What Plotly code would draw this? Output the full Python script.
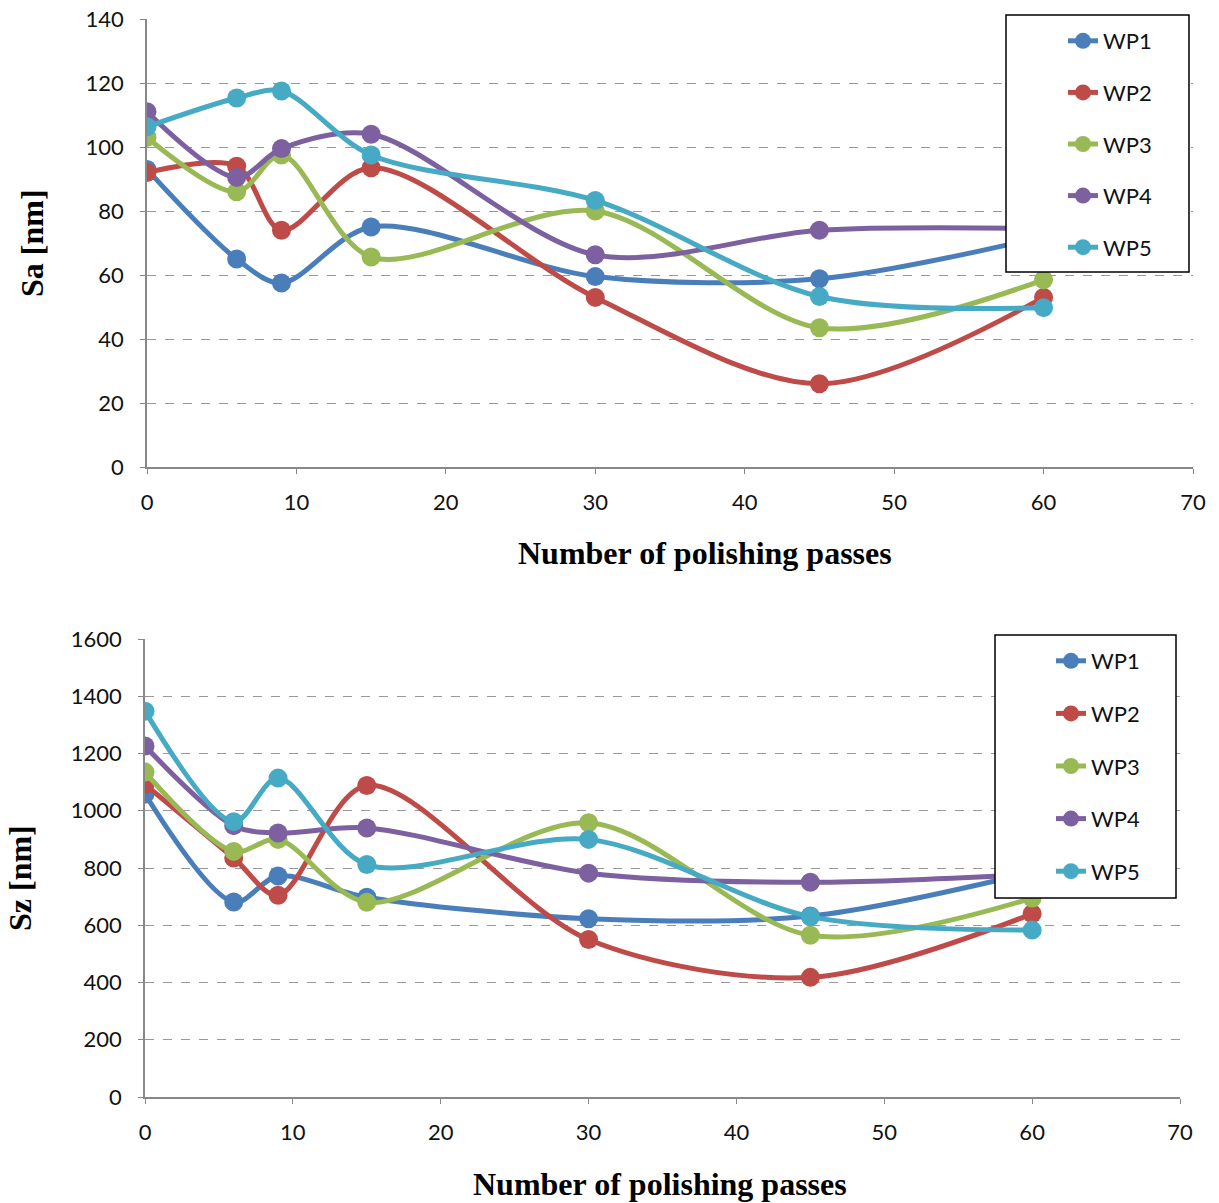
import plotly.graph_objects as go

passes = [0, 6, 9, 15, 30, 45, 60]
series_names = ["WP1", "WP2", "WP3", "WP4", "WP5"]
colors = ["#4a7ebb", "#be4b48", "#98b954", "#7d60a0", "#46aac5"]

sa_wp1 = [93, 65, 57.5, 75, 59.5, 58.8, 72]
sa_wp2 = [92, 94, 74, 93.5, 53, 26, 53]
sa_wp3 = [103, 86, 97.5, 65.6, 80, 43.5, 58.5]
sa_wp4 = [111, 90.5, 99.5, 104, 66.3, 74, 74.5]
sa_wp5 = [106.3, 115.3, 117.5, 97.5, 83.3, 53.3, 49.8]

sz_wp1 = [1058, 681, 772, 698, 623, 632, 785]
sz_wp2 = [1092, 835, 705, 1088, 550, 418, 640]
sz_wp3 = [1135, 858, 900, 680, 958, 565, 695]
sz_wp4 = [1226, 948, 922, 940, 782, 750, 778]
sz_wp5 = [1348, 962, 1114, 812, 900, 630, 583]

sa = [sa_wp1, sa_wp2, sa_wp3, sa_wp4, sa_wp5]
sz = [sz_wp1, sz_wp2, sz_wp3, sz_wp4, sz_wp5]

W, H = 1219, 1203
def px_x(p): return p / W
def px_y(p): return 1 - p / H

fig = go.Figure()
for i, name in enumerate(series_names):
    fig.add_trace(go.Scatter(
        x=passes, y=sa[i], name=name, mode="lines+markers",
        line=dict(color=colors[i], width=5, shape="spline", smoothing=0.9),
        marker=dict(color=colors[i], size=19),
        xaxis="x", yaxis="y", legend="legend", legendgroup="a" + name))
for i, name in enumerate(series_names):
    fig.add_trace(go.Scatter(
        x=passes, y=sz[i], name=name, mode="lines+markers",
        line=dict(color=colors[i], width=5, shape="spline", smoothing=0.9),
        marker=dict(color=colors[i], size=19),
        xaxis="x2", yaxis="y2", legend="legend2", legendgroup="b" + name))

tickfont = dict(family="Lato, Open Sans, sans-serif", size=22, color="#111")
common_x = dict(range=[0, 70], dtick=10, showline=True, linecolor="#888", linewidth=1.5,
                ticks="outside", ticklen=5, tickcolor="#888", showgrid=False,
                zeroline=False, tickfont=tickfont, automargin=False, ticklabelstandoff=10)
common_y = dict(showline=True, linecolor="#888", linewidth=1.5, ticks="outside",
                ticklen=5, tickcolor="#888", showgrid=True, gridcolor="#999",
                griddash="dash", gridwidth=1, zeroline=False, tickfont=tickfont,
                automargin=False, ticklabelstandoff=12)

legend_common = dict(font=dict(family="Lato, Open Sans, sans-serif", size=22, color="#111"),
                     borderwidth=0, bgcolor="rgba(0,0,0,0)",
                     xanchor="left", yanchor="top", traceorder="grouped")

title_font = dict(family="Liberation Serif, Times New Roman, serif", size=32, color="#000")

fig.update_layout(
    template="none",
    width=W, height=H, margin=dict(l=0, r=0, t=0, b=0, pad=0),
    paper_bgcolor="white", plot_bgcolor="white",
    xaxis=dict(domain=[px_x(147), px_x(1193)], anchor="y", **common_x),
    yaxis=dict(domain=[px_y(467), px_y(19)], anchor="x", range=[0, 140], dtick=20, **common_y),
    xaxis2=dict(domain=[px_x(145), px_x(1180)], anchor="y2", **common_x),
    yaxis2=dict(domain=[px_y(1097), px_y(639)], anchor="x2", range=[0, 1600], dtick=200, **common_y),
    legend=dict(x=px_x(1063), y=px_y(20), tracegroupgap=20, **legend_common),
    legend2=dict(x=px_x(1051), y=px_y(640), tracegroupgap=21, **legend_common),
    shapes=[
        dict(type="rect", xref="paper", yref="paper", layer="above",
             x0=px_x(1006), x1=px_x(1189), y0=px_y(272), y1=px_y(15),
             fillcolor="white", line=dict(color="#000", width=1.5)),
        dict(type="rect", xref="paper", yref="paper", layer="above",
             x0=px_x(995), x1=px_x(1176), y0=px_y(898), y1=px_y(635),
             fillcolor="white", line=dict(color="#000", width=1.5)),
    ],
    annotations=[
        dict(text="<b>Number of polishing passes</b>", x=px_x(705), y=px_y(553), xref="paper", yref="paper",
             xanchor="center", yanchor="middle", showarrow=False, font=title_font),
        dict(text="<b>Number of polishing passes</b>", x=px_x(660), y=px_y(1184), xref="paper", yref="paper",
             xanchor="center", yanchor="middle", showarrow=False, font=title_font),
        dict(text="<b>Sa [nm]</b>", x=px_x(32), y=px_y(243), xref="paper", yref="paper", textangle=-90,
             xanchor="center", yanchor="middle", showarrow=False, font=title_font),
        dict(text="<b>Sz [nm]</b>", x=px_x(20), y=px_y(878), xref="paper", yref="paper", textangle=-90,
             xanchor="center", yanchor="middle", showarrow=False, font=title_font),
    ],
)

fig.write_html("out.html")
